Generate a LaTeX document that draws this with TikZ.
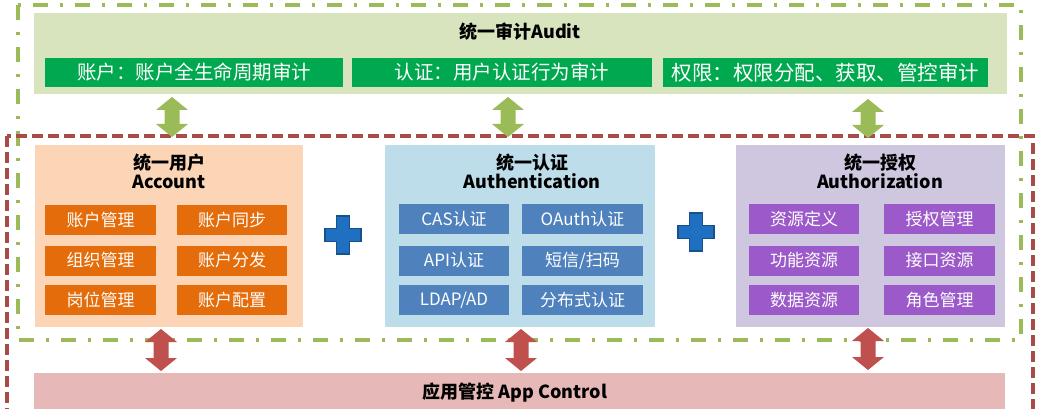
\documentclass[tikz,border=0pt]{standalone}
\usepackage{fontspec}
\setmainfont{Noto Sans CJK SC}
\begin{document}
\begin{tikzpicture}[x=1pt,y=-1pt,
  every node/.style={inner sep=0pt, outer sep=0pt},
  band/.style={rectangle, anchor=center},
  item/.style={rectangle, text=white, font=\fontsize{17}{17}\selectfont, minimum height=30pt},
  gitem/.style={rectangle, fill=gitemc, text=white, minimum height=29pt},
  ttl/.style={font=\bfseries\fontsize{18}{19}\selectfont, align=center, text=black},
]
\definecolor{bandg}{HTML}{D7E4BD}
\definecolor{gitemc}{HTML}{00A84F}
\definecolor{accf}{HTML}{FBD5B5}
\definecolor{oitem}{HTML}{E46C0A}
\definecolor{authf}{HTML}{BEDDEA}
\definecolor{bitem}{HTML}{4F81BD}
\definecolor{authzf}{HTML}{CFC6DF}
\definecolor{pitem}{HTML}{9B59C9}
\definecolor{pinkf}{HTML}{E6B9B8}
\definecolor{garrow}{HTML}{9BBB59}
\definecolor{rarrow}{HTML}{C0504D}
\definecolor{rdash}{HTML}{A94B49}
\definecolor{plusb}{HTML}{1F70C1}
\definecolor{plusd}{HTML}{17508A}

\useasboundingbox (0,0) rectangle (1041,409);
\clip (0,0) rectangle (1041,409);

% audit band
\node[band, fill=bandg, minimum width=973pt, minimum height=81pt] (audit) at (520.5,53.5) {};
\node[ttl] (audittitle) at (520,32) {统一审计Audit};
\node[gitem, minimum width=298pt, font=\fontsize{19.5}{19.5}\selectfont] (g1) at (194,72.5) {账户：账户全生命周期审计};
\node[gitem, minimum width=300pt, font=\fontsize{19.5}{19.5}\selectfont] (g2) at (502,72.5) {认证：用户认证行为审计};
\node[gitem, minimum width=325pt, font=\fontsize{20.5}{20.5}\selectfont] (g3) at (825.5,72.5) {权限：权限分配、获取、管控审计};

% three main boxes
\node[band, fill=accf, minimum width=268pt, minimum height=182pt] (acc) at (169,236) {};
\node[band, fill=authf, minimum width=270pt, minimum height=182pt] (auth) at (520,236) {};
\node[band, fill=authzf, minimum width=269pt, minimum height=182pt] (authz) at (870.5,236) {};

\node[ttl] (acct) at (169,171) {统一用户\\Account};
\node[ttl] (autht) at (532,171) {统一认证\\Authentication};
\node[ttl] (authzt) at (880,171) {统一授权\\Authorization};

% orange items
\node[item, fill=oitem, minimum width=111pt] (o1) at (100.5,220) {账户管理};
\node[item, fill=oitem, minimum width=110pt] (o2) at (232,220) {账户同步};
\node[item, fill=oitem, minimum width=111pt] (o3) at (100.5,260.5) {组织管理};
\node[item, fill=oitem, minimum width=110pt] (o4) at (232,260.5) {账户分发};
\node[item, fill=oitem, minimum width=111pt] (o5) at (100.5,300) {岗位管理};
\node[item, fill=oitem, minimum width=110pt] (o6) at (232,300) {账户配置};

% blue items
\node[item, fill=bitem, minimum width=110pt] (b1) at (454,219) {CAS认证};
\node[item, fill=bitem, minimum width=121pt] (b2) at (582.5,219) {OAuth认证};
\node[item, fill=bitem, minimum width=110pt] (b3) at (454,260.5) {API认证};
\node[item, fill=bitem, minimum width=121pt] (b4) at (582.5,260.5) {短信/扫码};
\node[item, fill=bitem, minimum width=110pt] (b5) at (454,300) {LDAP/AD};
\node[item, fill=bitem, minimum width=121pt] (b6) at (582.5,300) {分布式认证};

% purple items
\node[item, fill=pitem, minimum width=110pt] (p1) at (804,219) {资源定义};
\node[item, fill=pitem, minimum width=111pt] (p2) at (939.5,219) {授权管理};
\node[item, fill=pitem, minimum width=110pt] (p3) at (804,260.5) {功能资源};
\node[item, fill=pitem, minimum width=111pt] (p4) at (939.5,260.5) {接口资源};
\node[item, fill=pitem, minimum width=110pt] (p5) at (804,300) {数据资源};
\node[item, fill=pitem, minimum width=111pt] (p6) at (939.5,300) {角色管理};

% app control band
\node[band, fill=pinkf, minimum width=971pt, minimum height=50pt] (app) at (519.5,398) {};
\node[ttl] (appt) at (515,393) {应用管控 App Control};

% borders
\draw[garrow, line width=3.5pt, dash pattern=on 15pt off 12pt on 3pt off 12pt] (18,5) rectangle (1021,340);
\draw[rdash, line width=3.5pt, dash pattern=on 11pt off 5pt] (7,136) rectangle (1033,440);

% fat double arrows
\newcommand\fatarrow[4]{%
  \fill[#4] (#1,#2) -- ({#1+16},{#2+13}) -- ({#1+7.5},{#2+13}) -- ({#1+7.5},{#3-13}) -- ({#1+16},{#3-13})
   -- (#1,#3) -- ({#1-16},{#3-13}) -- ({#1-7.5},{#3-13}) -- ({#1-7.5},{#2+13}) -- ({#1-16},{#2+13}) -- cycle;}
\fatarrow{172}{97}{137}{garrow}
\fatarrow{508}{97}{137}{garrow}
\fatarrow{868}{99}{138}{garrow}
\fatarrow{161}{329}{371}{rarrow}
\fatarrow{521}{329}{371}{rarrow}
\fatarrow{868}{328}{370}{rarrow}

% plus signs
\newcommand\plussign[2]{%
  \filldraw[fill=plusb, draw=plusd, line width=1.2pt]
   ({#1-6.5},{#2-19}) -- ({#1+6.5},{#2-19}) -- ({#1+6.5},{#2-6.5}) -- ({#1+18},{#2-6.5}) -- ({#1+18},{#2+6.5})
   -- ({#1+6.5},{#2+6.5}) -- ({#1+6.5},{#2+19}) -- ({#1-6.5},{#2+19}) -- ({#1-6.5},{#2+6.5}) -- ({#1-18},{#2+6.5})
   -- ({#1-18},{#2-6.5}) -- ({#1-6.5},{#2-6.5}) -- cycle;}
\plussign{343}{235}
\plussign{696}{232}
\end{tikzpicture}
\end{document}
